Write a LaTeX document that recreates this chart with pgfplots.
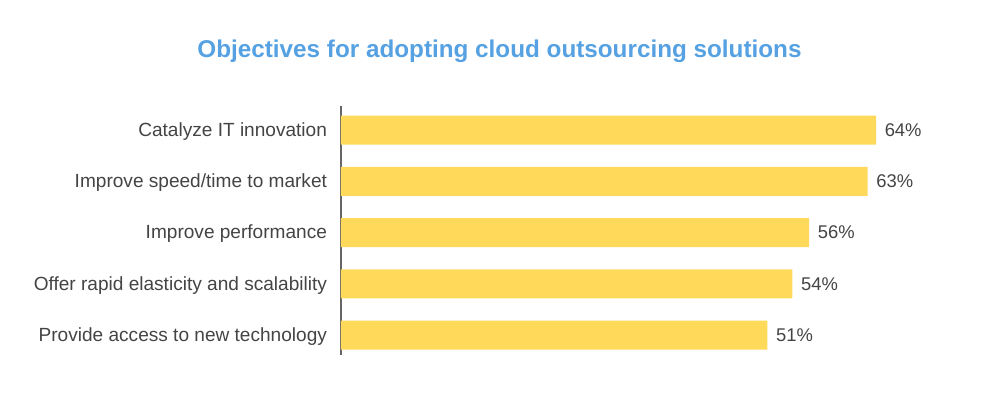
\documentclass[border=0pt]{standalone}
\usepackage{fontspec}
\setmainfont{Liberation Sans}
\usepackage{pgfplots}
\pgfplotsset{compat=1.18}
\definecolor{barc}{HTML}{FFD95A}
\definecolor{titlec}{HTML}{55A1E2}
\definecolor{labc}{HTML}{444444}
\definecolor{axc}{HTML}{666666}
\begin{document}
\begin{tikzpicture}
\useasboundingbox (0,0) rectangle (750pt,306.75pt);
\node[font=\fontsize{18.2}{20}\selectfont\bfseries, text=titlec] at (374.6pt,268pt) {Objectives for adopting cloud outsourcing solutions};
\begin{axis}[
  at={(255.75pt,40.5pt)}, anchor=south west,
  scale only axis,
  width=438.9pt, height=186.75pt,
  xbar, bar width=0.566,
  xmin=0, xmax=70,
  ymin=-0.39, ymax=4.47,
  axis x line=none,
  axis y line*=left,
  axis line style={draw=axc, line width=1.1pt},
  y axis line style={-},
  ytick={0,1,2,3,4},
  yticklabels={Provide access to new technology, Offer rapid elasticity and scalability, Improve performance, Improve speed/time to market, Catalyze IT innovation},
  major tick length=0pt,
  yticklabel style={font=\fontsize{14.3}{16}\selectfont, text=labc, xshift=-7pt, yshift=-1pt},
  /pgf/number format/assume math mode=true,
  nodes near coords={\pgfmathprintnumber{\pgfplotspointmeta}\%},
  nodes near coords style={font=\fontsize{13.8}{15}\selectfont, text=labc, anchor=west, xshift=3pt},
  clip=false,
]
\addplot[fill=barc, draw=none] coordinates {(51,0) (54,1) (56,2) (63,3) (64,4)};
\end{axis}
\end{tikzpicture}
\end{document}
